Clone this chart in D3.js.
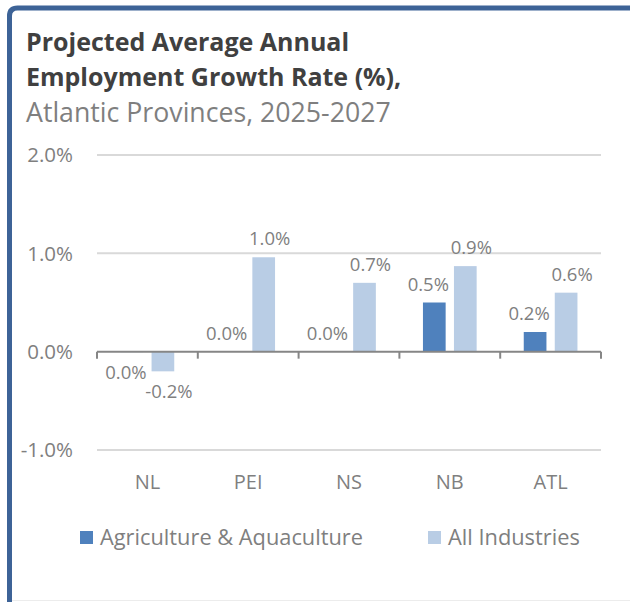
<!DOCTYPE html>
<html>
<head>
<meta charset="utf-8">
<script src="https://cdn.jsdelivr.net/npm/d3@7"></script>
<style>
  html, body { margin: 0; padding: 0; background: #fff; }
  svg { display: block; }
  text { font-family: "Open Sans", "Noto Sans", sans-serif; }
</style>
</head>
<body>
<svg id="chart" width="630" height="602"></svg>
<script>
// ---- data ----
const categories = ["NL", "PEI", "NS", "NB", "ATL"];
const seriesNames = ["Agriculture & Aquaculture", "All Industries"];
const agriValues = [-0.004, 0.0, 0.0, 0.5, 0.2];
const allValues = [-0.2, 0.96, 0.7, 0.87, 0.6];
const yTicks = [-1, 0, 1, 2];
const titleLines = ["Projected Average Annual", "Employment Growth Rate (%),"];
const subtitle = "Atlantic Provinces, 2025-2027";

// ---- styles ----
const colors = ["#4f81bd", "#b9cde5"];
const grey = "#7f7f7f";

const svg = d3.select("#chart");

// frame
svg.append("line").attr("x1", 9).attr("x2", 630).attr("y1", 600.5).attr("y2", 600.5)
  .attr("stroke", "#ececec").attr("stroke-width", 1);
svg.append("path")
  .attr("d", "M9.5,620 L9.5,16 Q9.5,8 17.5,8 L640,8")
  .attr("fill", "none").attr("stroke", "#3d6397").attr("stroke-width", 5);

// title
const title = svg.append("text").attr("x", 26).attr("fill", "#404040")
  .attr("font-weight", "bold").attr("font-size", 25);
titleLines.forEach((t, i) => {
  title.append("tspan").attr("x", 26).attr("y", 51 + i * 34.5).text(t);
});
svg.append("text").attr("x", 26).attr("y", 122).attr("fill", grey)
  .attr("font-size", 26.7).text(subtitle);

// scales
const x0 = d3.scaleBand().domain(categories).range([97, 601]).paddingInner(0).paddingOuter(0);
const bw = x0.bandwidth();
const x1 = d3.scaleBand().domain(seriesNames).range([bw / 2 - 26.85, bw / 2 + 26.85]).paddingInner(0.268);
const y = d3.scaleLinear().domain([-1, 2]).range([450, 155]);

// gridlines
svg.append("g").selectAll("line").data(yTicks.filter(d => d !== 0)).join("line")
  .attr("x1", 97).attr("x2", 601)
  .attr("y1", d => y(d)).attr("y2", d => y(d))
  .attr("stroke", "#d9d9d9").attr("stroke-width", 2);

// y tick labels
const fmt = v => { let s = Math.abs(v).toFixed(1); if (v < 0 && s !== "0.0") s = "-" + s; return s + "%"; };
svg.append("g").selectAll("text").data(yTicks).join("text")
  .attr("x", 73).attr("y", d => y(d)).attr("dy", "0.36em")
  .attr("text-anchor", "end").attr("fill", grey).attr("font-size", 20.5)
  .text(d => fmt(d));

// bars
const rows = categories.map((c, i) => ({ cat: c, vals: [agriValues[i], allValues[i]] }));
const groups = svg.append("g").selectAll("g").data(rows).join("g")
  .attr("transform", d => `translate(${x0(d.cat)},0)`);

groups.selectAll("rect").data(d => d.vals.map((v, j) => ({ v, s: seriesNames[j], j }))).join("rect")
  .attr("x", d => x1(d.s))
  .attr("width", x1.bandwidth())
  .attr("y", d => Math.min(y(d.v), y(0)))
  .attr("height", d => Math.abs(y(d.v) - y(0)))
  .attr("fill", d => colors[d.j]);

// data labels
groups.selectAll("text").data(d => d.vals.map((v, j) => ({ v, s: seriesNames[j], j }))).join("text")
  .attr("x", d => x1(d.s) + x1.bandwidth() / 2 + (d.j === 0 ? -6 : 6))
  .attr("y", d => d.v < 0 ? y(d.v) + 27 : y(d.v) - 12)
  .attr("text-anchor", "middle").attr("fill", grey).attr("font-size", 18.5)
  .text(d => fmt(d.v));

// x axis
const xAxis = svg.append("g").attr("transform", `translate(0,${y(0)})`);
xAxis.append("line").attr("x1", 97).attr("x2", 601).attr("stroke", "#868686").attr("stroke-width", 2);
const tickXs = categories.map(c => x0(c)).concat([x0(categories[categories.length - 1]) + bw]);
xAxis.selectAll("line.tick").data(tickXs).join("line").attr("class", "tick")
  .attr("x1", d => d).attr("x2", d => d).attr("y1", 0).attr("y2", 7)
  .attr("stroke", "#868686").attr("stroke-width", 2);

// category labels
svg.append("g").selectAll("text").data(categories).join("text")
  .attr("x", d => x0(d) + bw / 2).attr("y", 489)
  .attr("text-anchor", "middle").attr("fill", grey).attr("font-size", 20)
  .text(d => d);

// legend
const legendX = [80, 428];
const leg = svg.append("g").selectAll("g").data(seriesNames).join("g")
  .attr("transform", (d, i) => `translate(${legendX[i]},0)`);
leg.append("rect").attr("x", 0).attr("y", 531).attr("width", 13).attr("height", 13)
  .attr("fill", (d, i) => colors[i]);
leg.append("text").attr("x", 20).attr("y", 545).attr("fill", grey).attr("font-size", 21.8)
  .text(d => d);
</script>
</body>
</html>
